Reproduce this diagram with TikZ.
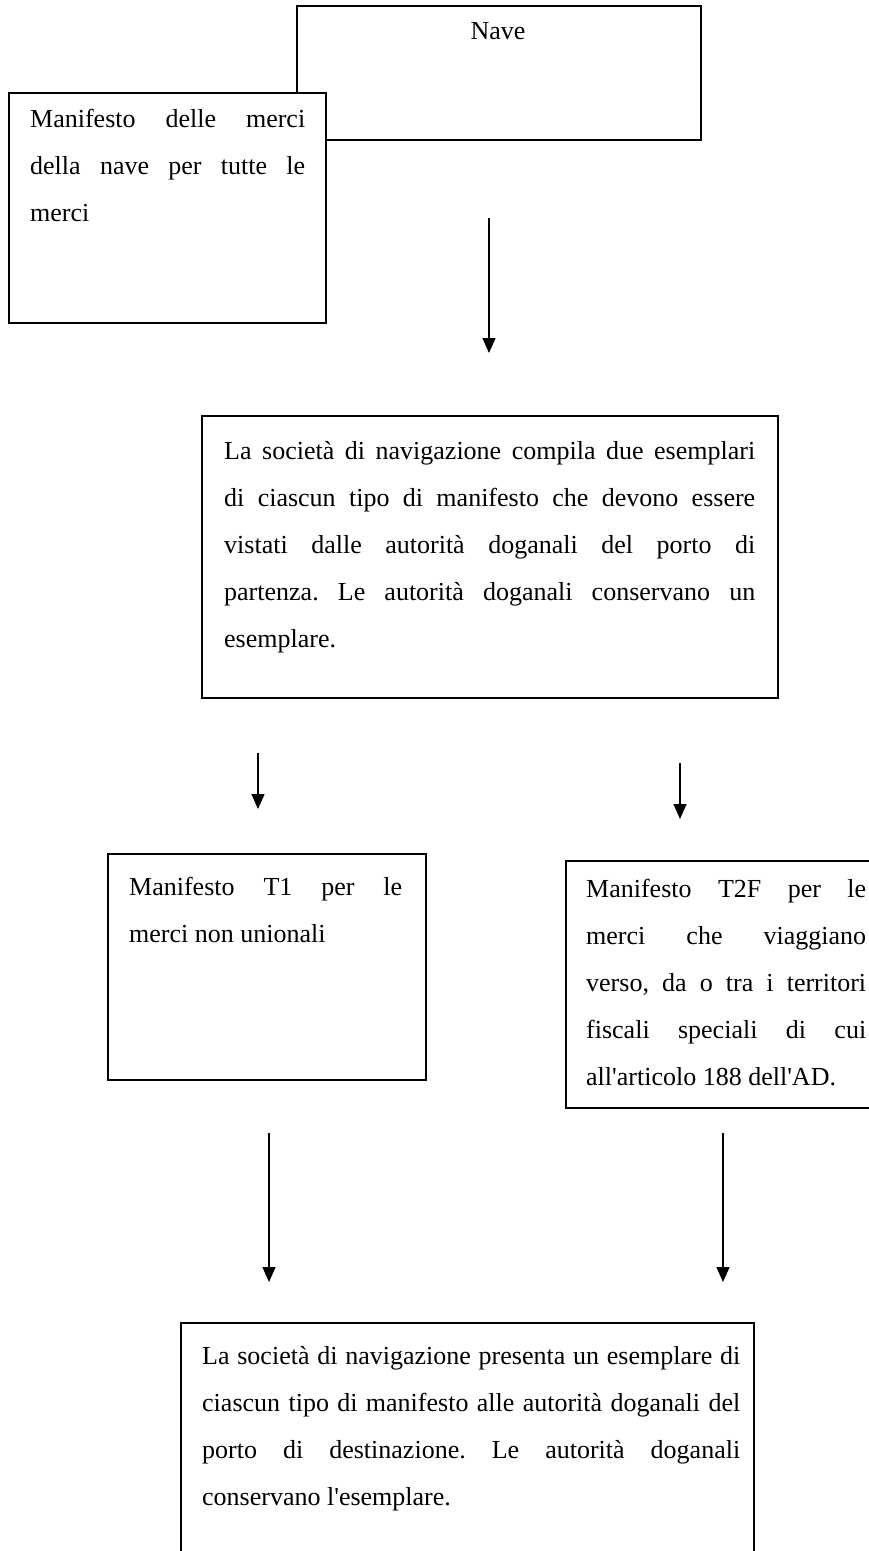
\documentclass[tikz,border=0pt]{standalone}
\usepackage{fontspec}
\setmainfont{Liberation Serif}[Ligatures=TeXOff]
\usetikzlibrary{arrows.meta}
\frenchspacing
\begin{document}
\begin{tikzpicture}[x=1pt,y=-1pt,
  box/.style={draw=black,line width=1.5pt,fill=white,inner sep=0pt,anchor=north west},
  txt/.style={anchor=base west,inner sep=0pt,align=justify,
    font=\fontsize{26}{47}\selectfont\frenchspacing},
  arr/.style={line width=1.4pt,-{Triangle[width=13pt,length=15pt]}}]
\useasboundingbox (0,0) rectangle (869,1551);
\clip (0,0) rectangle (869,1551);
% boxes
\node[box,minimum width=404pt,minimum height=134pt] (nave) at (296,5) {};
\node[anchor=base,inner sep=0pt,font=\fontsize{26}{47}\selectfont] (navet) at (498,39) {Nave};
\node[box,minimum width=317pt,minimum height=230pt] (man) at (8,92) {};
\node[txt,text width=275pt] (mant) at (30,127) {Manifesto delle merci\linebreak della nave per tutte le\linebreak merci};
\node[box,minimum width=576pt,minimum height=282pt] (soc) at (201,415) {};
\node[txt,text width=531pt] (soct) at (224,459) {La società di navigazione compila due esemplari\linebreak di ciascun tipo di manifesto che devono essere\linebreak vistati dalle autorità doganali del porto di\linebreak partenza. Le autorità doganali conservano un\linebreak esemplare.};
\node[box,minimum width=318pt,minimum height=226pt] (t1) at (107,853) {};
\node[txt,text width=273pt] (t1t) at (129,895) {Manifesto T1 per le\linebreak merci non unionali};
\node[box,minimum width=320pt,minimum height=247pt] (t2) at (565,860) {};
\node[txt,text width=280pt] (t2t) at (586,897) {Manifesto T2F per le\linebreak merci che viaggiano\linebreak verso, da o tra i territori\linebreak fiscali speciali di cui\linebreak all'articolo 188 dell'AD.};
\node[box,minimum width=573pt,minimum height=260pt] (dest) at (180,1322) {};
\node[txt,text width=538pt] (destt) at (202,1364) {La società di navigazione presenta un esemplare di\linebreak ciascun tipo di manifesto alle autorità doganali del\linebreak porto di destinazione. Le autorità doganali\linebreak conservano l'esemplare.};
% arrows
\coordinate (a1s) at (489,218); \coordinate (a1e) at (489,353);
\coordinate (a2s) at (258,753); \coordinate (a2e) at (258,809);
\coordinate (a3s) at (680,763); \coordinate (a3e) at (680,819);
\coordinate (a4s) at (269,1133); \coordinate (a4e) at (269,1282);
\coordinate (a5s) at (723,1133); \coordinate (a5e) at (723,1282);
\draw[arr] (a1s) -- (a1e);
\draw[arr] (a2s) -- (a2e);
\draw[arr] (a3s) -- (a3e);
\draw[arr] (a4s) -- (a4e);
\draw[arr] (a5s) -- (a5e);
\end{tikzpicture}
\end{document}
